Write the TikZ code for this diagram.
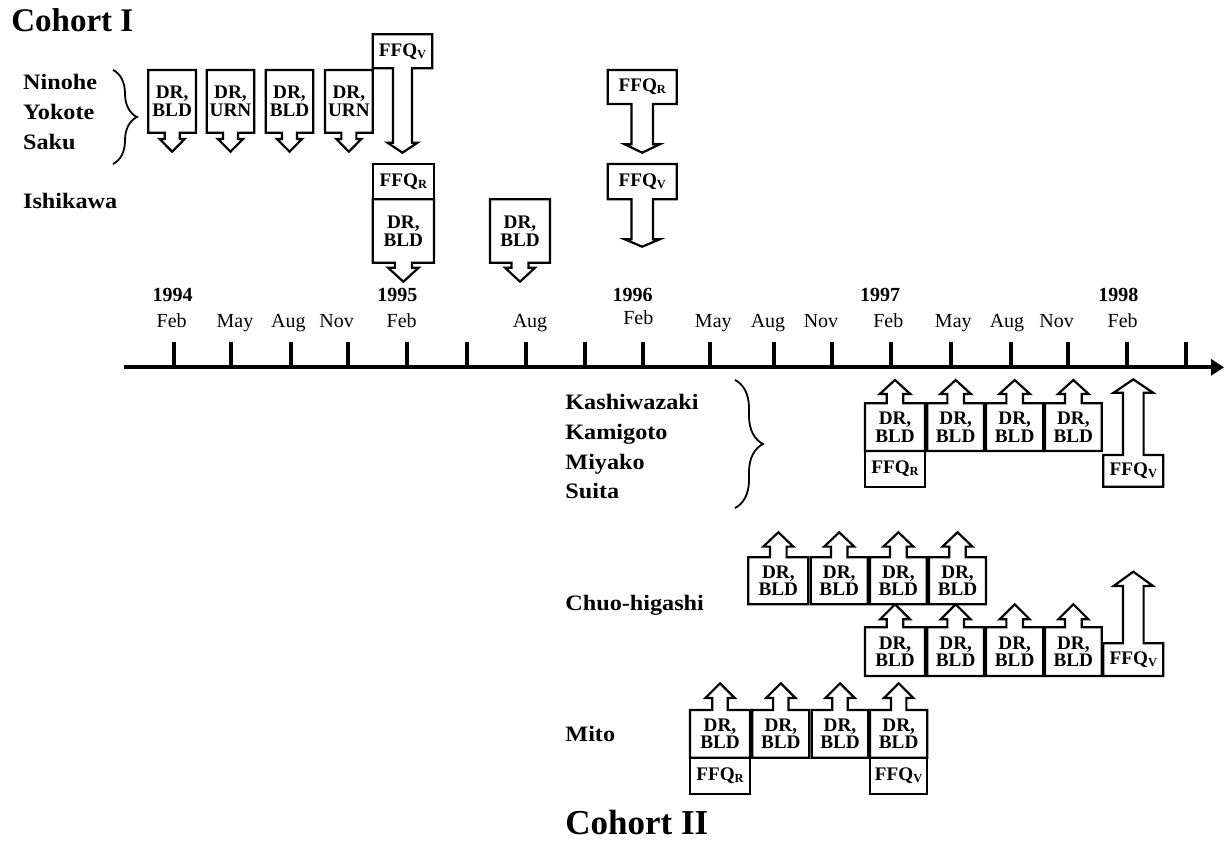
\documentclass[tikz,border=0pt]{standalone}
\usepackage{fontspec}
\setmainfont{Liberation Serif}
\newfontfamily\labfont{Liberation Serif}[FakeStretch=1.1]
\usetikzlibrary{arrows.meta,decorations.pathreplacing}

\newcommand\fsub[1]{\raisebox{-1pt}{\fontsize{6.2}{7}\selectfont #1}}

\tikzset{
  bx/.style={inner sep=0pt, outer sep=0pt, align=center,
             font=\bfseries\fontsize{9.6}{8.8}\selectfont},
  bw/.style={minimum width={(#1)*0.5pt}},
  bh/.style={minimum height={(#1)*0.5pt}},
  outl/.style={line width=1.1pt, line join=miter},
  framed/.style={draw, line width=1.1pt},
  site/.style={anchor=base west, inner sep=0pt, font=\labfont\bfseries\fontsize{11}{13}\selectfont},
  cohort/.style={anchor=base west, inner sep=0pt, font=\bfseries\fontsize{17.5}{20}\selectfont},
  yr/.style={anchor=base, inner sep=0pt, font=\bfseries\fontsize{10}{12}\selectfont},
  mon/.style={anchor=base, inner sep=0pt, font=\fontsize{10}{12}\selectfont},
  axisline/.style={line width=2pt, -{Triangle[length=6.5pt,width=8pt]}},
  tickline/.style={line width=2pt},
  bracel/.style={line width=0.9pt, decorate},
}

% #1 options, #2 name, #3 x1, #4 x2, #5 y1, #6 y2, #7 text
\newcommand\bxnode[7][]{\node[bx,#1,bw={#4-#3},bh={#6-#5}] (#2) at ({(#3+#4)/2},{(#5+#6)/2}) {#7};}

% box outline with arrow below: node, stem half, stem length, head half, head length
\newcommand\boxdn[5]{%
  \draw[outl] (#1.south west) -- (#1.north west) -- (#1.north east) -- (#1.south east)
    -- ([shift={(#2,0)}]#1.south) -- ++(0,#3) -- ++({#4-#2},0) -- ++({-#4},#5)
    -- ++({-#4},{-#5}) -- ++({#4-#2},0) -- ++(0,{-#3}) -- cycle;}
% box outline with arrow above
\newcommand\boxup[5]{%
  \draw[outl] (#1.north west) -- (#1.south west) -- (#1.south east) -- (#1.north east)
    -- ([shift={(#2,0)}]#1.north) -- ++(0,{-#3}) -- ++({#4-#2},0) -- ++({-#4},{-#5})
    -- ++({-#4},#5) -- ++({#4-#2},0) -- ++(0,#3) -- cycle;}

\begin{document}
\begin{tikzpicture}[x=0.5pt,y=-0.5pt]
\useasboundingbox (0,0) rectangle (1224,840);

% ---------- time axis ----------
\coordinate (ax0) at (124,367.3);
\coordinate (ax1) at (1224,367.3);
\draw[axisline] (ax0) -- (ax1);
\foreach \t in {174,231,290.7,348.3,407.3,466.7,525.7,585,642.7,710,774.3,832.3,890.7,951,1010.7,1067.7,1126.7,1185.7}
  \draw[tickline] (\t,341.7) -- (\t,367.3);

\node[yr] (y94) at (172.7,301.7) {1994};
\node[yr] (y95) at (397.3,301.7) {1995};
\node[yr] (y96) at (632.7,301.7) {1996};
\node[yr] (y97) at (880,301.7) {1997};
\node[yr] (y98) at (1118.3,301.7) {1998};

\node[mon] (mo1) at (171.7,327.7) {Feb};
\node[mon] (mo2) at (235,327.7) {May};
\node[mon] (mo3) at (288.3,327.7) {Aug};
\node[mon] (mo4) at (336.7,327.7) {Nov};
\node[mon] (mo5) at (401.7,327.7) {Feb};
\node[mon] (mo6) at (530,327.7) {Aug};
\node[mon] (mo7) at (638.3,324.3) {Feb};
\node[mon] (mo8) at (713.3,327.7) {May};
\node[mon] (mo9) at (768,327.7) {Aug};
\node[mon] (mo10) at (821,327.7) {Nov};
\node[mon] (mo11) at (888.3,327.7) {Feb};
\node[mon] (mo12) at (953.3,327.7) {May};
\node[mon] (mo13) at (1007,327.7) {Aug};
\node[mon] (mo14) at (1056.7,327.7) {Nov};
\node[mon] (mo15) at (1122.7,327.7) {Feb};

% ---------- Cohort I ----------
\node[cohort, font=\bfseries\fontsize{16.5}{20}\selectfont] (coh1) at (11,31.7) {Cohort I};
\node[site] (ninohe) at (22.7,90) {Ninohe};
\node[site] (yokote) at (22.7,119.3) {Yokote};
\node[site] (saku) at (22.7,149) {Saku};
\node[site] (ishi) at (22.7,208.3) {Ishikawa};
\coordinate (br1a) at (113,70);
\coordinate (br1b) at (113,164);
\draw[bracel, decoration={brace, amplitude=12pt}] (br1a) -- (br1b);

\bxnode{a1}{148.3}{196}{70}{132.7}{DR,\\BLD}
\bxnode{a2}{206.7}{254.3}{70}{132.7}{DR,\\URN}
\bxnode{a3}{265.7}{313.3}{70}{132.7}{DR,\\BLD}
\bxnode{a4}{325}{372.7}{70}{132.7}{DR,\\URN}
\bxnode{a5}{372.7}{432.3}{34.3}{68.3}{FFQ\fsub{V}}
\boxdn{a1}{7.5}{6.3}{12.5}{12.7}
\boxdn{a2}{7.5}{6.3}{12.5}{12.7}
\boxdn{a3}{7.5}{6.3}{12.5}{12.7}
\boxdn{a4}{7.5}{6.3}{12.5}{12.7}
\boxdn{a5}{9.5}{74.4}{15}{10}

\bxnode[framed]{b1}{372.7}{434}{164}{199.3}{FFQ\fsub{R}}
\bxnode{b2}{372.7}{434}{199.3}{262.7}{DR,\\BLD}
\boxdn{b2}{8.5}{5}{15.3}{14}
\bxnode{b3}{490}{550}{199.3}{262.7}{DR,\\BLD}
\boxdn{b3}{8.5}{5}{15}{14}

\bxnode{c1}{607.7}{676.7}{70}{104}{FFQ\fsub{R}}
\boxdn{c1}{10.7}{40.3}{17.5}{8.4}
\bxnode{c2}{607.7}{676.7}{164}{199.3}{FFQ\fsub{V}}
\boxdn{c2}{10.7}{40}{17.5}{7.4}

% ---------- Cohort II ----------
\node[site] (kashi) at (565,409.3) {Kashiwazaki};
\node[site] (kami) at (565,439.3) {Kamigoto};
\node[site] (miya) at (565,469) {Miyako};
\node[site] (suita) at (565,498.3) {Suita};
\coordinate (br2a) at (735,380);
\coordinate (br2b) at (735,508);
\draw[bracel, decoration={brace, amplitude=14pt}] (br2a) -- (br2b);

\bxnode{k1}{865}{925}{403.3}{451}{DR,\\BLD}
\bxnode[framed]{k1r}{865}{925}{451}{486.7}{FFQ\fsub{R}}
\bxnode{k2}{927.3}{984}{403.3}{451}{DR,\\BLD}
\bxnode{k3}{986}{1043.3}{403.3}{451}{DR,\\BLD}
\bxnode{k4}{1045}{1101.7}{403.3}{451}{DR,\\BLD}
\bxnode{k5}{1103.3}{1163.3}{455}{486.7}{FFQ\fsub{V}}
\boxup{k1}{8.3}{9.3}{15.3}{14}
\boxup{k2}{8.3}{9.3}{15.3}{14}
\boxup{k3}{8.3}{9.3}{15.3}{14}
\boxup{k4}{8.3}{9.3}{15.3}{14}
\boxup{k5}{10.3}{62.3}{19.7}{13.3}

\node[site] (chuo) at (565,610) {Chuo-higashi};
\bxnode{h1}{748.3}{808.3}{557.3}{604.3}{DR,\\BLD}
\bxnode{h2}{810.7}{867.7}{557.3}{604.3}{DR,\\BLD}
\bxnode{h3}{870}{926.7}{557.3}{604.3}{DR,\\BLD}
\bxnode{h4}{929}{986}{557.3}{604.3}{DR,\\BLD}
\boxup{h1}{8.3}{10.7}{15}{14.3}
\boxup{h2}{8.3}{10.7}{15}{14.3}
\boxup{h3}{8.3}{10.7}{15}{14.3}
\boxup{h4}{8.3}{10.7}{15}{14.3}
\bxnode{h5}{865}{925}{627.3}{676}{DR,\\BLD}
\bxnode{h6}{927.3}{984}{627.3}{676}{DR,\\BLD}
\bxnode{h7}{986}{1043.3}{627.3}{676}{DR,\\BLD}
\bxnode{h8}{1045}{1101.7}{627.3}{676}{DR,\\BLD}
\boxup{h5}{8.3}{8}{15}{15}
\boxup{h6}{8.3}{8}{15}{15}
\boxup{h7}{8.3}{8}{15}{15}
\boxup{h8}{8.3}{8}{15}{15}
\bxnode{h9}{1103.3}{1163.3}{643.3}{676}{FFQ\fsub{V}}
\boxup{h9}{10.3}{57.3}{19.7}{14.3}

\node[site] (mito) at (565,741.7) {Mito};
\bxnode{mi1}{690}{750}{710}{757.7}{DR,\\BLD}
\bxnode{mi2}{752.3}{809.3}{710}{757.7}{DR,\\BLD}
\bxnode{mi3}{811.7}{868.3}{710}{757.7}{DR,\\BLD}
\bxnode{mi4}{870}{927.3}{710}{757.7}{DR,\\BLD}
\boxup{mi1}{7.7}{12}{14.7}{14.7}
\boxup{mi2}{7.7}{12}{14.7}{14.7}
\boxup{mi3}{7.7}{12}{14.7}{14.7}
\boxup{mi4}{7.7}{12}{14.7}{14.7}
\bxnode[framed]{mi1r}{690}{750}{757.7}{794}{FFQ\fsub{R}}
\bxnode[framed]{mi4v}{870}{927.3}{757.7}{794}{FFQ\fsub{V}}

\node[cohort] (coh2) at (565,834) {Cohort II};
\end{tikzpicture}
\end{document}
